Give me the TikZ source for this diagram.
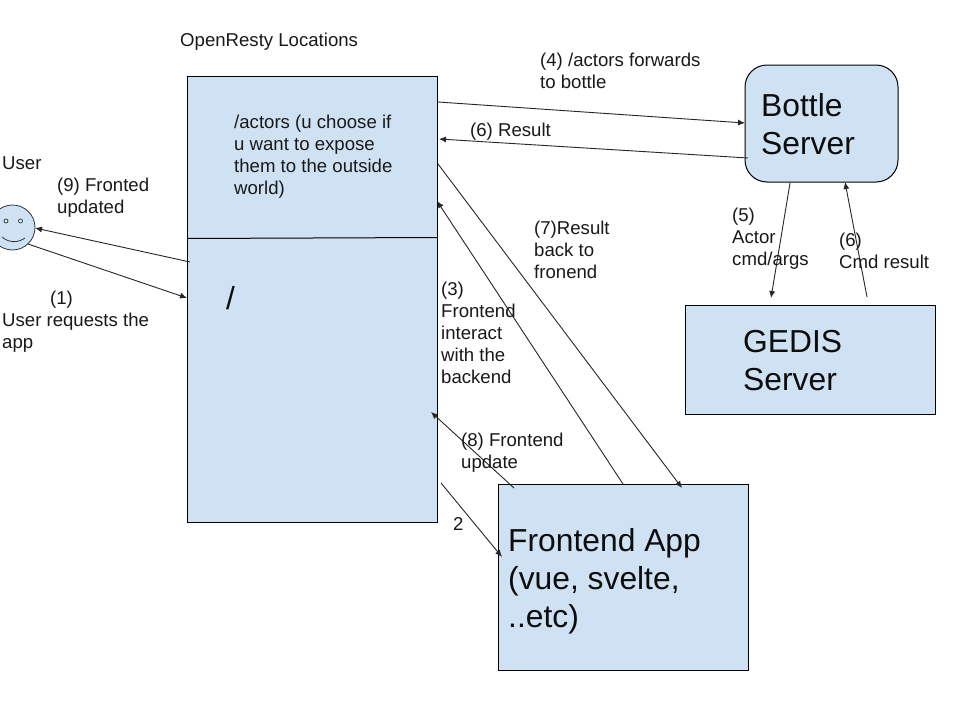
\documentclass[tikz,border=0pt]{standalone}
\usepackage{fontspec}
\setmainfont{Liberation Sans}
\usetikzlibrary{arrows.meta}
\definecolor{boxblue}{HTML}{CFE2F3}
\tikzset{
  blue box/.style={draw=black,fill=boxblue,line width=1pt,inner sep=0pt,outer sep=0pt},
  small/.style={anchor=north west,inner sep=0pt,align=left,font=\fontsize{18.6}{22}\selectfont,text=black!90},
  big/.style={anchor=north west,inner sep=0pt,align=left,font=\fontsize{31.8}{38}\selectfont,text=black!95},
  conn/.style={draw=black!85,line width=0.9pt,-{Latex[length=7pt,width=6pt]}},
}
\begin{document}
\begin{tikzpicture}[x=1pt,y=-1pt]
\useasboundingbox (0,0) rectangle (960,720);
\fill[white] (0,0) rectangle (960,720);
% boxes
\node[blue box,minimum width=250pt,minimum height=446pt] (or) at (312,299) {};
\coordinate (divL) at (187,238.5);
\coordinate (divR) at (437,237.5);
\draw[line width=1pt] (divL) -- (divR);
\node[blue box,rounded corners=22pt,minimum width=153pt,minimum height=117pt] (bottle) at (821.5,123.5) {};
\node[blue box,minimum width=250pt,minimum height=109pt] (gedis) at (810,359.5) {};
\node[blue box,minimum width=250pt,minimum height=186pt] (front) at (623,577) {};
% smiley
\node[draw=black!80,fill=boxblue,circle,line width=0.8pt,minimum size=45pt,inner sep=0pt] (user) at (12.5,227.5) {};
\node[draw=black!80,fill=boxblue!70!white,circle,line width=0.7pt,minimum size=4pt,inner sep=0pt] (eyeL) at (6,221) {};
\node[draw=black!80,fill=boxblue!70!white,circle,line width=0.7pt,minimum size=4pt,inner sep=0pt] (eyeR) at (20.5,221) {};
\coordinate (smileL) at (2,237);
\coordinate (smileR) at (25,238);
\draw[line width=0.8pt,black!80] (smileL) .. controls (9,243) and (18,243) .. (smileR);
% connector endpoints
\coordinate (a1s) at (28,244);
\coordinate (a1e) at (187,298);
\coordinate (a9s) at (190,262);
\coordinate (a9e) at (35,228);
\coordinate (a4s) at (438,102);
\coordinate (a4e) at (745,123);
\coordinate (a6s) at (748,158);
\coordinate (a6e) at (439,139);
\coordinate (a7s) at (438,164);
\coordinate (a7e) at (682,488);
\coordinate (a3s) at (623,484);
\coordinate (a3e) at (437,201);
\coordinate (a8s) at (514,488);
\coordinate (a8e) at (431,412);
\coordinate (a2s) at (441,483);
\coordinate (a2e) at (502,557);
\coordinate (a5s) at (790,183);
\coordinate (a5e) at (771,298);
\coordinate (a6bs) at (867,297);
\coordinate (a6be) at (845,182);
% connectors
\draw[conn] (a1s) -- (a1e);
\draw[conn] (a9s) -- (a9e);
\draw[conn] (a4s) -- (a4e);
\draw[conn] (a6s) -- (a6e);
\draw[conn] (a7s) -- (a7e);
\draw[conn] (a3s) -- (a3e);
\draw[conn] (a8s) -- (a8e);
\draw[conn] (a2s) -- (a2e);
\draw[conn] (a5s) -- (a5e);
\draw[conn] (a6bs) -- (a6be);
% text
\node[small] (t0) at (180,33) {OpenResty Locations};
\node[small] (t1) at (234,115) {/actors (u choose if\\u want to expose\\them to the outside\\world)};
\node[small] (t2) at (2,157) {User};
\node[small] (t3) at (57,178) {(9) Fronted\\updated};
\node[small] (t4) at (50,291) {(1)};
\node[small] (t5) at (2,313) {User requests the\\app};
\node[small] (t6) at (540,53) {(4) /actors forwards\\to bottle};
\node[small] (t7) at (470,123) {(6) Result};
\node[small] (t8) at (534,221) {(7)Result\\back to\\fronend};
\node[small] (t9) at (441,282) {(3)\\Frontend\\interact\\with the\\backend};
\node[small] (t10) at (461,433) {(8) Frontend\\update};
\node[small] (t11) at (453,517) {2};
\node[small] (t12) at (732,208) {(5)\\Actor\\cmd/args};
\node[small] (t13) at (839,233) {(6)\\Cmd result};
\node[big] (t14) at (226,286) {/};
\node[big] (t15) at (761,93) {Bottle\\Server};
\node[big] (t16) at (743,330) {GEDIS\\Server};
\node[big] (t17) at (508,528) {Frontend App\\(vue, svelte,\\..etc)};
\end{tikzpicture}
\end{document}
